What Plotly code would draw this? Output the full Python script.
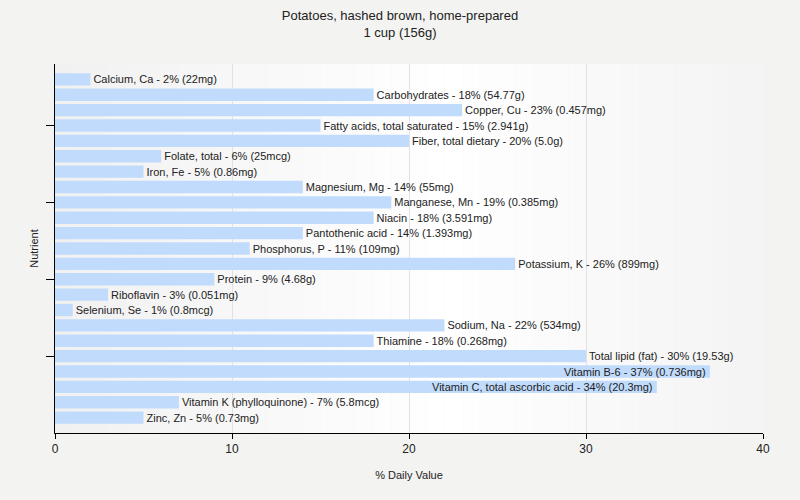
import plotly.graph_objects as go

nutrients = ["Calcium, Ca", "Carbohydrates", "Copper, Cu", "Fatty acids, total saturated",
             "Fiber, total dietary", "Folate, total", "Iron, Fe", "Magnesium, Mg",
             "Manganese, Mn", "Niacin", "Pantothenic acid", "Phosphorus, P", "Potassium, K",
             "Protein", "Riboflavin", "Selenium, Se", "Sodium, Na", "Thiamine",
             "Total lipid (fat)", "Vitamin B-6", "Vitamin C, total ascorbic acid",
             "Vitamin K (phylloquinone)", "Zinc, Zn"]
percent_dv = [2, 18, 23, 15, 20, 6, 5, 14, 19, 18, 14, 11, 26, 9, 3, 1, 22, 18, 30, 37, 34, 7, 5]
amounts = ["22mg", "54.77g", "0.457mg", "2.941g", "5.0g", "25mcg", "0.86mg", "55mg",
           "0.385mg", "3.591mg", "1.393mg", "109mg", "899mg", "4.68g", "0.051mg", "0.8mcg",
           "534mg", "0.268mg", "19.53g", "0.736mg", "20.3mg", "5.8mcg", "0.73mg"]
x_ticks = [0, 10, 20, 30, 40]

FONT = "Liberation Sans, Arial, sans-serif"
labels = [f"{n} - {p}% ({a})" for n, p, a in zip(nutrients, percent_dv, amounts)]
inside = [p >= 33 for p in percent_dv]
idx = list(range(len(nutrients)))

fig = go.Figure()

# subtle gradient background of plot area
steps = 40
for i in range(steps):
    t = i / (steps - 1)
    d = abs(t - 0.55) / 0.55
    v = int(round(255 - 14 * d))
    fig.add_shape(type="rect", xref="x", yref="paper",
                  x0=40 * i / steps, x1=40 * (i + 1) / steps, y0=0, y1=1,
                  fillcolor=f"rgb({v},{v},{v})", line_width=0, layer="below")

fig.add_trace(go.Bar(
    x=percent_dv, y=idx, orientation="h",
    marker=dict(color="#c0dbfc", line_width=0),
    width=0.8,
    text=["" if ins else lab for lab, ins in zip(labels, inside)],
    textposition="outside",
    textfont=dict(family=FONT, size=11, color="#222222"),
    cliponaxis=False, hoverinfo="skip",
))

for i, (lab, p, ins) in enumerate(zip(labels, percent_dv, inside)):
    if ins:
        fig.add_annotation(x=p, y=i, xref="x", yref="y", text=lab, showarrow=False,
                           xanchor="right", yanchor="middle", xshift=-2,
                           font=dict(family=FONT, size=11, color="#222222"))

fig.update_layout(
    width=800, height=500,
    paper_bgcolor="#f3f3f1", plot_bgcolor="#f3f3f1",
    margin=dict(l=55, r=37, t=64, b=67),
    title=dict(text="Potatoes, hashed brown, home-prepared<br>1 cup (156g)",
               x=0.5, xanchor="center", y=0.96, yanchor="top",
               font=dict(family=FONT, size=13, color="#222222")),
    font=dict(family=FONT, size=11, color="#222222"),
    showlegend=False,
)
fig.update_xaxes(range=[0, 40], tickvals=x_ticks, showgrid=True, gridcolor="#e2e2e2",
                 showline=True, linecolor="#000000", linewidth=1, ticks="outside",
                 ticklen=5, tickcolor="#000000", zeroline=False,
                 title=dict(text="% Daily Value", font=dict(size=11), standoff=15),
                 tickfont=dict(size=12))
fig.update_yaxes(range=[23, -1], tickvals=[3, 8, 13, 18], showticklabels=False,
                 showgrid=False, showline=True, linecolor="#000000", linewidth=1,
                 ticks="outside", ticklen=8, tickcolor="#000000", zeroline=False,
                 title=dict(text="Nutrient", font=dict(size=11), standoff=5))

fig.write_html("out.html")
